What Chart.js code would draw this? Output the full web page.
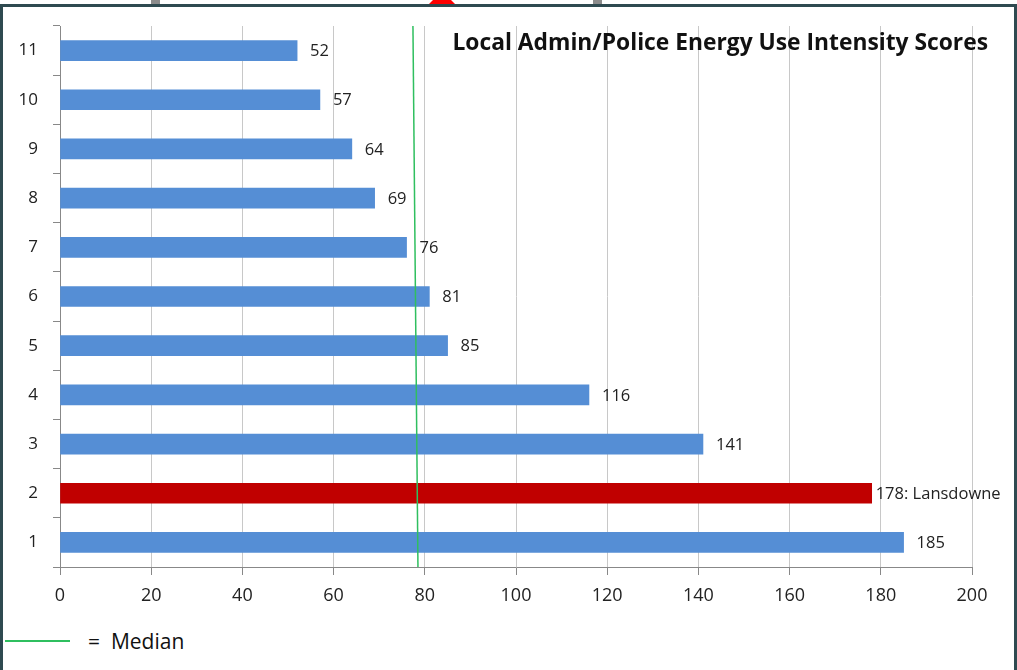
<!DOCTYPE html>
<html>
<head>
<meta charset="utf-8">
<script src="https://cdn.jsdelivr.net/npm/chart.js@4/dist/chart.umd.min.js"></script>
<style>
  html, body { margin: 0; padding: 0; background: #fff; }
  body { width: 1017px; height: 670px; position: relative; overflow: hidden; font-family: "Open Sans", "Liberation Sans", sans-serif; }
  #frame { position: absolute; left: 0; top: 4px; width: 1011px; height: 680px; border: 3px solid #2e4a50; border-bottom: none; }
  .tab { position: absolute; top: 0; height: 4px; background: #8c8c8c; }
  #tri { position: absolute; left: 429px; top: -9px; width: 0; height: 0;
         border-left: 13px solid transparent; border-right: 13px solid transparent; border-bottom: 13px solid #ff0000; }
  #wrap { position: absolute; left: 0; top: 0; width: 1017px; height: 620px; }
  #legend { position: absolute; left: 5px; top: 623px; height: 36px; display: flex; align-items: center; }
  #legend .line { width: 65px; height: 2px; background: #2fbf5f; margin-right: 18px; }
  #legend span { font-size: 21px; color: #111; }
</style>
</head>
<body>
<div id="frame"></div>
<div class="tab" style="left:151px;width:9px"></div>
<div class="tab" style="left:593px;width:9px"></div>
<div id="tri"></div>
<div id="wrap"><canvas id="chart"></canvas></div>
<div id="legend"><div class="line"></div><span>=&nbsp; Median</span></div>
<script>
// Local Admin/Police EUI scores, category 1 at bottom
const categories = ['1', '2', '3', '4', '5', '6', '7', '8', '9', '10', '11'];
const scores = [185, 178, 141, 116, 85, 81, 76, 69, 64, 57, 52];
const valueLabels = ['185', '178: Lansdowne', '141', '116', '85', '81', '76', '69', '64', '57', '52'];
const barColors = ['#558ed5', '#c00000', '#558ed5', '#558ed5', '#558ed5', '#558ed5', '#558ed5', '#558ed5', '#558ed5', '#558ed5', '#558ed5'];
const xTicks = [0, 20, 40, 60, 80, 100, 120, 140, 160, 180, 200];
// median line as drawn (slightly slanted): value at top, value at bottom
const medianLine = [77.4, 78.5];
const chartTitle = 'Local Admin/Police Energy Use Intensity Scores';

const FONT = '"Open Sans", "Liberation Sans", sans-serif';

// value labels at the end of each bar
const barLabels = {
  id: 'barLabels',
  afterDatasetsDraw(chart) {
    const ctx = chart.ctx;
    const meta = chart.getDatasetMeta(0);
    ctx.save();
    ctx.font = '16.5px ' + FONT;
    ctx.fillStyle = '#222';
    ctx.textBaseline = 'middle';
    ctx.textAlign = 'left';
    meta.data.forEach((bar, i) => {
      const off = valueLabels[i].includes(':') ? 4 : 13;
      ctx.fillText(valueLabels[i], bar.x + off, bar.y + 1);
    });
    ctx.restore();
  }
};

// median line + title overlay
const overlay = {
  id: 'overlay',
  afterDatasetsDraw(chart) {
    const {ctx, chartArea: {top, bottom, right}, scales: {x}} = chart;
    ctx.save();
    ctx.strokeStyle = '#2fbf5f';
    ctx.lineWidth = 1.5;
    ctx.beginPath();
    ctx.moveTo(x.getPixelForValue(medianLine[0]), top);
    ctx.lineTo(x.getPixelForValue(medianLine[1]), bottom);
    ctx.stroke();

    ctx.font = 'bold 22.8px ' + FONT;
    ctx.fillStyle = '#111';
    ctx.textAlign = 'right';
    ctx.textBaseline = 'middle';
    ctx.fillText(chartTitle, right + 16, top + 18);
    ctx.restore();
  }
};

new Chart(document.getElementById('chart'), {
  type: 'bar',
  data: {
    labels: categories,
    datasets: [{
      data: scores,
      backgroundColor: barColors,
      barThickness: 20
    }]
  },
  options: {
    indexAxis: 'y',
    responsive: true,
    maintainAspectRatio: false,
    animation: false,
    layout: { padding: { top: 26, right: 45, left: 0, bottom: 0 } },
    plugins: {
      legend: { display: false },
      tooltip: { enabled: false }
    },
    scales: {
      x: {
        min: 0,
        max: 200,
        afterBuildTicks(scale) { scale.ticks = xTicks.map(v => ({ value: v })); },
        afterFit(scale) { scale.height = 53; },
        grid: { color: '#c8c8c8', tickLength: 8, tickColor: '#888' },
        border: { color: '#888' },
        ticks: { font: { size: 18, family: FONT }, color: '#222', padding: 10 }
      },
      y: {
        reverse: true,
        afterFit(scale) { scale.width = 60; },
        grid: { drawOnChartArea: false, tickLength: 7, color: '#888' },
        border: { color: '#888' },
        ticks: { font: { size: 17, family: FONT }, color: '#222', padding: 15 }
      }
    }
  },
  plugins: [barLabels, overlay]
});
</script>
</body>
</html>
